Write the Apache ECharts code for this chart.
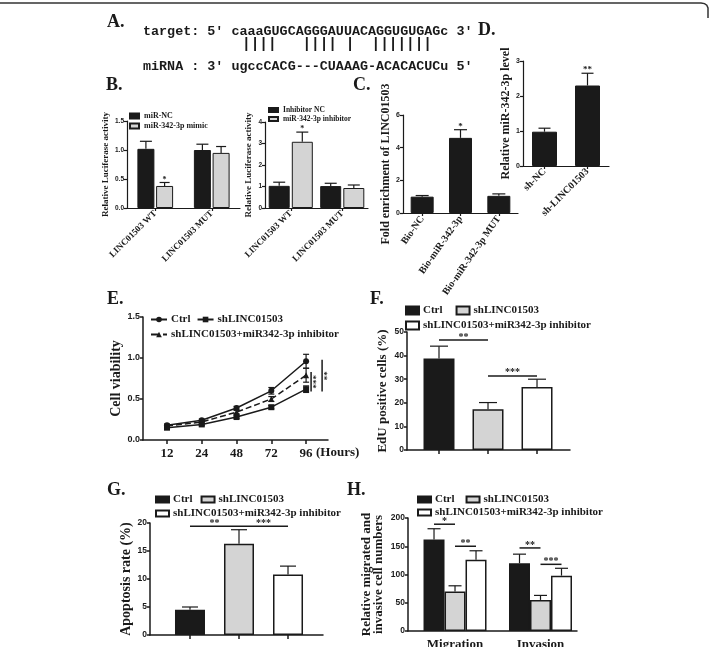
<!DOCTYPE html>
<html><head><meta charset="utf-8">
<script src="https://cdn.jsdelivr.net/npm/echarts@6/dist/echarts.min.js"></script>
<style>html,body{margin:0;padding:0;background:#fff}#c{width:714px;height:647px}</style>
</head><body><div id="c"></div>
<script>
// ---------------- data ----------------
const seqTarget = "target: 5' caaaGUGCAGGGAUUACAGGUGUGAGc 3'";
const seqPairs  = "||||   |||| |  |||||||";
const seqMirna  = "miRNA : 3' ugccCACG---CUAAAG-ACACACUCu 5'";

const bCats = ['LINC01503 WT', 'LINC01503 MUT'];
const b1Names = ['miR-NC', 'miR-342-3p mimic'];
const b1NC = [1.02, 1.00];      const b1NCErr = [0.13, 0.10];
const b1Mimic = [0.38, 0.95];   const b1MimicErr = [0.06, 0.11];
const b1Stars = ['*', ''];
const b2Names = ['Inhibitor NC', 'miR-342-3p inhibitor'];
const b2NC = [1.03, 1.02];      const b2NCErr = [0.17, 0.13];
const b2Inh = [3.08, 0.93];     const b2InhErr = [0.45, 0.14];
const b2Stars = ['*', ''];

const cCats = ['Bio-NC', 'Bio-miR-342-3p', 'Bio-miR-342-3p MUT'];
const cVals = [1.0, 4.6, 1.05]; const cErr = [0.07, 0.5, 0.12]; const cStars = ['', '*', ''];

const dCats = ['sh-NC', 'sh-LINC01503'];
const dVals = [0.98, 2.3];      const dErr = [0.1, 0.35];       const dStars = ['', '**'];

const hours = ['12', '24', '48', '72', '96'];
const groupNames = ['Ctrl', 'shLINC01503', 'shLINC01503+miR342-3p inhibitor'];
const eCtrl = [0.18, 0.24, 0.39, 0.60, 0.96]; const eCtrlErr = [0.015, 0.015, 0.02, 0.04, 0.085];
const eSh   = [0.15, 0.19, 0.28, 0.40, 0.62]; const eShErr   = [0.01, 0.015, 0.015, 0.02, 0.04];
const eInh  = [0.17, 0.22, 0.34, 0.50, 0.79]; const eInhErr  = [0.01, 0.015, 0.02, 0.03, 0.085];
const eSig = [[0.59, 0.83, '***'], [0.59, 0.98, '**']];

const fVals = [38.8, 17.3, 26.7]; const fErr = [5.2, 2.8, 3.3];
const fSig = [[0, 1, 46.6, '**'], [1, 2, 31.4, '***']];

const gVals = [4.5, 16.3, 10.8]; const gErr = [0.5, 2.5, 1.5];
const gSig = [[0, 1, 19.4, '**'], [1, 2, 19.4, '***']];

const hCats = ['Migration', 'Invasion'];
const hCtrl = [162, 120]; const hCtrlErr = [19, 16];
const hSh   = [70, 55];   const hShErr   = [10, 8];
const hInh  = [126, 98];  const hInhErr  = [16, 13];
// [category, bar slot, category, bar slot, y, label]
const hSig = [[0, 0, 0, 1, 189, '*'], [0, 1, 0, 2, 150, '**'], [1, 0, 1, 1, 147, '**'], [1, 1, 1, 2, 118, '***']];

// ---------------- styling helpers ----------------
const SERIF = "'Liberation Serif','Times New Roman',serif";
const SANS = "'Liberation Sans',Arial,sans-serif";
const MONO = "'Liberation Mono','Courier New',monospace";
const INK = '#1a1a1a';
const GRAY = '#d4d4d4';

const grids = [
  {left: 127, top: 121, width: 113, height: 87},  // 0 B1
  {left: 265, top: 122, width: 103, height: 86},  // 1 B2
  {left: 403, top: 115, width: 115, height: 98},  // 2 C
  {left: 523, top: 61,  width: 86,  height: 105}, // 3 D
  {left: 143, top: 317, width: 185, height: 123}, // 4 E
  {left: 407, top: 332, width: 163, height: 118}, // 5 F
  {left: 150, top: 523, width: 173, height: 112}, // 6 G
  {left: 408, top: 518, width: 169, height: 113}  // 7 H
];

function yAx(gi, max, interval, o) {
  return {
    type: 'value', gridIndex: gi, min: 0, max: max, interval: interval,
    name: o.name, nameLocation: 'middle', nameGap: o.gap, nameRotate: 90,
    nameTextStyle: {fontFamily: SERIF, fontWeight: 'bold', fontSize: o.nameSize, color: INK, lineHeight: o.lh || o.nameSize + 1},
    axisLine: {show: true, onZero: false, lineStyle: {color: INK, width: o.lw || 1.2}},
    axisTick: {show: true, length: o.tl || 3, lineStyle: {color: INK, width: o.lw || 1.2}},
    axisLabel: {fontFamily: SANS, fontWeight: 'bold', fontSize: o.ls, color: INK, margin: o.lm || 3, formatter: o.fmt},
    splitLine: {show: false}
  };
}
function catX(gi, cats, o) {
  return {
    type: 'category', gridIndex: gi, data: cats,
    axisLine: {show: true, onZero: false, lineStyle: {color: INK, width: o.lw || 1.2}},
    axisTick: {show: true, alignWithLabel: true, length: 3, lineStyle: {color: INK, width: o.lw || 1.2}},
    axisLabel: {interval: 0, rotate: o.rotate, fontFamily: SERIF, fontWeight: 'bold', fontSize: o.fs, color: INK, margin: o.margin || 4}
  };
}
function valX(gi, min, max, o) {
  return {
    type: 'value', gridIndex: gi, min: min, max: max,
    splitLine: {show: false},
    axisLine: {show: true, onZero: false, lineStyle: {color: INK, width: 1.5}},
    axisTick: o.ticks ? {show: true, customValues: o.ticks, length: 4, lineStyle: {color: INK, width: 1.5}} : {show: false},
    axisLabel: o.labels ? {show: true, customValues: o.labels, formatter: o.fmt, fontFamily: SERIF, fontWeight: 'bold', fontSize: o.fs, color: INK, margin: o.margin || 6} : {show: false}
  };
}
function bar(name, gi, data, color, bw, gap, bwid) {
  return {type: 'bar', name: name, xAxisIndex: gi, yAxisIndex: gi, data: data, barWidth: bw, barGap: gap,
    itemStyle: {color: color, borderColor: INK, borderWidth: bwid || 1}, emphasis: {disabled: true}};
}
function errSeries(gi, vals, errs, slot, n, bw, gap, cap, stars, starFont, both) {
  return {
    type: 'custom', xAxisIndex: gi, yAxisIndex: gi, silent: true, clip: false, z: 5,
    data: vals.map((v, i) => [i, v, errs[i]]),
    renderItem(params, api) {
      const i = api.value(0), v = api.value(1), e = api.value(2);
      const p = api.coord([i, v]);
      const t = api.coord([i, v + e]);
      const b = api.coord([i, v - e]);
      const x = p[0] + (slot - (n - 1) / 2) * bw * (1 + gap);
      const st = {stroke: INK, lineWidth: 1.2};
      const ch = [
        {type: 'line', shape: {x1: x, y1: both ? b[1] : p[1], x2: x, y2: t[1]}, style: st},
        {type: 'line', shape: {x1: x - cap, y1: t[1], x2: x + cap, y2: t[1]}, style: st}
      ];
      if (both) ch.push({type: 'line', shape: {x1: x - cap, y1: b[1], x2: x + cap, y2: b[1]}, style: st});
      const s = stars ? stars[params.dataIndex] : '';
      if (s) ch.push({type: 'text', x: x, y: t[1] + 1, style: {text: s, font: starFont, fill: INK, align: 'center', verticalAlign: 'bottom'}});
      return {type: 'group', children: ch};
    }
  };
}
function sigSeries(gi, items, n, bw, gap, font) {
  return {
    type: 'custom', xAxisIndex: gi, yAxisIndex: gi, silent: true, clip: false, z: 6,
    data: items.map(it => [it[0], it[4]]),
    renderItem(params, api) {
      const it = items[params.dataIndex];
      const off = k => (k - (n - 1) / 2) * bw * (1 + gap);
      const a = api.coord([it[0], it[4]]), b = api.coord([it[2], it[4]]);
      const x1 = a[0] + off(it[1]), x2 = b[0] + off(it[3]), y = a[1];
      return {type: 'group', children: [
        {type: 'line', shape: {x1: x1, y1: y, x2: x2, y2: y}, style: {stroke: INK, lineWidth: 1.5}},
        {type: 'text', x: (x1 + x2) / 2, y: y + 2, style: {text: it[5], font: font, fill: INK, align: 'center', verticalAlign: 'bottom'}}
      ]};
    }
  };
}
function legend(names, left, top, o) {
  return Object.assign({
    data: names, left: left, top: top, orient: 'horizontal', padding: 0, selectedMode: false,
    itemWidth: 13, itemHeight: 8, itemGap: 12, icon: 'rect',
    formatter: n => n.split('|').pop(),
    textStyle: {fontFamily: SERIF, fontWeight: 'bold', fontSize: 11, color: INK, padding: [0, 0, 0, -1]}
  }, o);
}
function T(text, x, y, font, align, va) {
  return {type: 'text', x: x, y: y, silent: true, style: {text: text, font: font, fill: INK, align: align || 'left', verticalAlign: va || 'middle'}};
}

// ---------------- build ----------------
const eN = groupNames.map(n => 'E|' + n), fN = groupNames.map(n => 'F|' + n),
      gN = groupNames.map(n => 'G|' + n), hN = groupNames.map(n => 'H|' + n);
const fills = [INK, GRAY, '#ffffff'];

const series = [];
// B1
series.push(bar(b1Names[0], 0, b1NC, INK, 17, '10%'), bar(b1Names[1], 0, b1Mimic, GRAY, 17, '10%'));
series.push(errSeries(0, b1NC, b1NCErr, 0, 2, 17, 0.1, 6, null), errSeries(0, b1Mimic, b1MimicErr, 1, 2, 17, 0.1, 5, b1Stars, 'bold 8px ' + SERIF));
// B2
series.push(bar(b2Names[0], 1, b2NC, INK, 21, '10%'), bar(b2Names[1], 1, b2Inh, GRAY, 21, '10%'));
series.push(errSeries(1, b2NC, b2NCErr, 0, 2, 21, 0.1, 6, null), errSeries(1, b2Inh, b2InhErr, 1, 2, 21, 0.1, 6, b2Stars, 'bold 8px ' + SERIF));
// C
series.push(bar('C|enrichment', 2, cVals, INK, 23, '10%'));
series.push(errSeries(2, cVals, cErr, 0, 1, 23, 0, 6.5, cStars, 'bold 9px ' + SERIF));
// D
series.push(bar('D|level', 3, dVals, INK, 25, '10%'));
series.push(errSeries(3, dVals, dErr, 0, 1, 25, 0, 6, dStars, 'bold 9px ' + SERIF));
// E
const eSets = [[eCtrl, eCtrlErr, 'circle', 'solid'], [eSh, eShErr, 'rect', 'solid'], [eInh, eInhErr, 'triangle', 'dashed']];
eSets.forEach((s, k) => {
  series.push({type: 'line', name: eN[k], xAxisIndex: 4, yAxisIndex: 4, data: s[0].map((v, i) => [i, v]),
    symbol: s[2], symbolSize: 6, z: 4, lineStyle: {color: INK, width: 1.5, type: s[3]}, itemStyle: {color: INK}, emphasis: {disabled: true}});
  series.push(errSeries(4, s[0], s[1], 0, 1, 0, 0, 3, null, null, true));
});
series.push({
  type: 'custom', xAxisIndex: 4, yAxisIndex: 4, silent: true, clip: false, z: 6,
  data: eSig.map(s => [hours.length - 1, s[1]]),
  renderItem(params, api) {
    const s = eSig[params.dataIndex], k = params.dataIndex;
    const a = api.coord([hours.length - 1, s[0]]), b = api.coord([hours.length - 1, s[1]]);
    const x = a[0] + 5 + k * 11;
    return {type: 'group', children: [
      {type: 'line', shape: {x1: x, y1: a[1], x2: x, y2: b[1]}, style: {stroke: INK, lineWidth: 1.5}},
      {type: 'text', x: x + 6, y: (a[1] + b[1]) / 2, rotation: Math.PI / 2, style: {text: s[2], font: 'bold 9px ' + SERIF, fill: INK, align: 'center', verticalAlign: 'middle'}}
    ]};
  }
});
// F, G single bars per position
[[5, fN, fVals, fErr, fSig, 31, 9], [6, gN, gVals, gErr, gSig, 30, 8]].forEach(([gi, names, vals, errs, sig, bw, cap]) => {
  names.forEach((n, k) => {
    series.push(bar(n, gi, [[k, vals[k]]], fills[k], bw, '-100%', 1.5));
  });
  series.push(errSeries(gi, vals, errs, 0, 1, bw, 0, cap, null));
  series.push(sigSeries(gi, sig.map(s => [s[0], 0, s[1], 0, s[2], s[3]]), 1, bw, 0, 'bold 10px ' + SERIF));
});
// H grouped
const hSets = [[hCtrl, hCtrlErr], [hSh, hShErr], [hInh, hInhErr]];
hSets.forEach((s, k) => {
  series.push(bar(hN[k], 7, s[0].map((v, i) => [i, v]), fills[k], 21, '0%', 1.5));
});
hSets.forEach((s, k) => series.push(errSeries(7, s[0], s[1], k, 3, 21, 0, 6.5, null)));
series.push(sigSeries(7, hSig, 3, 21, 0, 'bold 10px ' + SERIF));

const option = {
  animation: false,
  backgroundColor: '#ffffff',
  grid: grids.map(g => Object.assign({containLabel: false, outerBoundsMode: 'none'}, g)),
  xAxis: [
    catX(0, bCats, {rotate: 45, fs: 9}),
    catX(1, bCats, {rotate: 45, fs: 9}),
    catX(2, cCats, {rotate: 55, fs: 10}),
    catX(3, dCats, {rotate: 45, fs: 10}),
    valX(4, -0.69, 4.63, {ticks: [0, 1, 2, 3, 4], labels: [0, 1, 2, 3, 4], fmt: v => hours[Math.round(v)], fs: 13, margin: 7}),
    valX(5, -0.653, 2.673, {ticks: [0, 1, 2]}),
    valX(6, -0.816, 2.714, {ticks: [0, 1, 2]}),
    valX(7, -0.55, 1.427, {labels: [0, 1], fmt: v => hCats[Math.round(v)], fs: 13, margin: 7})
  ],
  yAxis: [
    yAx(0, 1.5, 0.5, {name: 'Relative Luciferase activity', gap: 16, nameSize: 9, ls: 6.5, fmt: v => v.toFixed(1)}),
    yAx(1, 4, 1, {name: 'Relative Luciferase activity', gap: 11, nameSize: 9, ls: 6.5}),
    yAx(2, 6, 2, {name: 'Fold enrichment of LINC01503', gap: 7, nameSize: 12, ls: 7}),
    yAx(3, 3, 1, {name: 'Relative miR-342-3p level', gap: 9, nameSize: 12, ls: 7}),
    yAx(4, 1.5, 0.5, {name: 'Cell viability', gap: 17, nameSize: 14, ls: 9, lw: 1.5, fmt: v => v.toFixed(1)}),
    yAx(5, 50, 10, {name: 'EdU positive cells (%)', gap: 17, nameSize: 13, ls: 8.5, lw: 1.5}),
    yAx(6, 20, 5, {name: 'Apoptosis rate (%)', gap: 14, nameSize: 14, ls: 8.5, lw: 1.5}),
    yAx(7, 200, 50, {name: 'Relative migrated and\ninvasive cell numbers', gap: 23, nameSize: 13, lh: 12, ls: 8.5, lw: 1.5})
  ],
  legend: [
    legend(b1Names, 129, 112, {orient: 'vertical', itemWidth: 9, itemHeight: 5, itemGap: 2, textStyle: {fontFamily: SERIF, fontWeight: 'bold', fontSize: 8, color: INK}}),
    legend(b2Names, 268, 106, {orient: 'vertical', itemWidth: 9, itemHeight: 4, itemGap: 1, textStyle: {fontFamily: SERIF, fontWeight: 'bold', fontSize: 7.5, color: INK}}),
    legend(eN.slice(0, 2), 150, 314, {icon: null, itemWidth: 16, itemHeight: 7, itemGap: 6}),
    legend(eN.slice(2), 150, 329, {icon: null, itemWidth: 16, itemHeight: 7}),
    legend(fN.slice(0, 2), 405, 305, {itemGap: 13}),
    legend(fN.slice(2), 405, 320, {}),
    legend(gN.slice(0, 2), 155, 494, {itemHeight: 6, itemGap: 8}),
    legend(gN.slice(2), 155, 508, {itemHeight: 6}),
    legend(hN.slice(0, 2), 417, 494, {itemHeight: 6, itemGap: 11}),
    legend(hN.slice(2), 417, 507, {itemHeight: 6})
  ],
  series: series,
  graphic: [
    {type: 'polyline', silent: true, shape: {points: [[0, 3], [701, 3], [704.5, 3.6], [706.8, 5.2], [708, 8], [708, 18]]}, style: {stroke: '#333', lineWidth: 1.5, fill: null}},
    T('A.', 107, 22, 'bold 18px ' + SERIF),
    T('B.', 106, 85, 'bold 18px ' + SERIF),
    T('C.', 353, 85, 'bold 18px ' + SERIF),
    T('D.', 478, 30, 'bold 18px ' + SERIF),
    T('E.', 107, 299, 'bold 18px ' + SERIF),
    T('F.', 370, 299, 'bold 18px ' + SERIF),
    T('G.', 107, 490, 'bold 18px ' + SERIF),
    T('H.', 347, 490, 'bold 18px ' + SERIF),
    T(seqTarget, 143, 32, 'bold 13.4px ' + MONO),
    T(seqPairs, 242, 44, 'bold 14.4px ' + MONO),
    T(seqMirna, 143, 67, 'bold 13.4px ' + MONO),
    T('(Hours)', 316, 453, 'bold 13px ' + SERIF)
  ]
};
const chart = echarts.init(document.getElementById('c'), null, {renderer: 'canvas'});
chart.setOption(option);
</script>
</body></html>
